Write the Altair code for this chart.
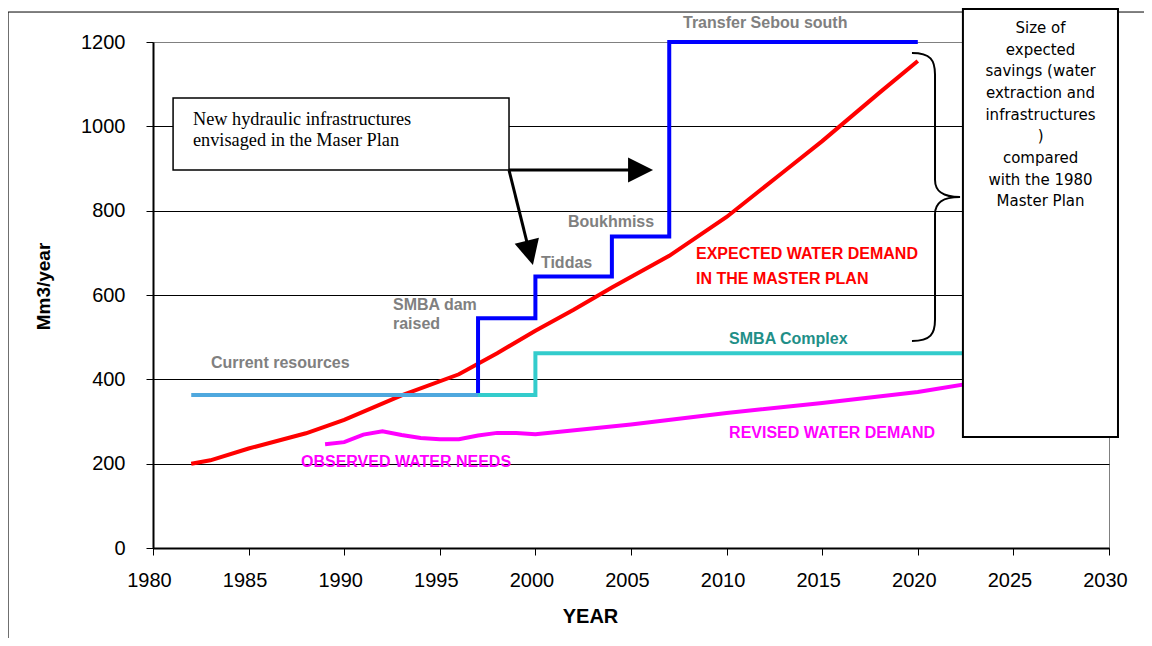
import altair as alt
import pandas as pd

# ---------------- data ----------------
x_ticks = [1980, 1985, 1990, 1995, 2000, 2005, 2010, 2015, 2020, 2025, 2030]
y_ticks = [0, 200, 400, 600, 800, 1000, 1200]

demand_years = [1982, 1983, 1985, 1988, 1990, 1993, 1996, 1998, 2000, 2002, 2004, 2007, 2010, 2013, 2015, 2018, 2020]
demand_values = [200, 208, 236, 272, 304, 362, 412, 462, 515, 565, 618, 693, 785, 893, 965, 1080, 1155]

infra_years = [1997, 1997, 2000, 2000, 2004, 2004, 2007, 2007, 2020]
infra_values = [363, 545, 545, 644, 644, 739, 739, 1200, 1200]

current_years = [1982, 1997]
current_values = [363, 363]

smba_years = [1997, 2000, 2000, 2030]
smba_values = [363, 363, 462, 462]

needs_years = [1989, 1990, 1991, 1992, 1993, 1994, 1995, 1996, 1997, 1998, 1999, 2000, 2005, 2010, 2015, 2020, 2025]
needs_values = [246, 251, 269, 277, 268, 261, 258, 258, 267, 273, 273, 270, 293, 320, 344, 370, 407]

label_texts = ["Transfer Sebou south", "Current resources", "SMBA dam", "raised", "Tiddas", "Boukhmiss",
               "EXPECTED WATER DEMAND", "IN THE MASTER PLAN", "SMBA Complex",
               "REVISED WATER DEMAND", "OBSERVED WATER NEEDS"]
label_years = [2007.72, 1983.03, 1992.55, 1992.55, 2000.29, 2001.70, 2008.40, 2008.40, 2010.13, 2010.13, 1987.74]
label_values = [1245, 438.7, 576.3, 531.2, 675.9, 773.1, 697.2, 639.1, 496.8, 273.9, 202.8]
label_colors = ["#808080"] * 6 + ["#FF0000", "#FF0000", "#1F8F88", "#FF00FF", "#FF00FF"]

note_lines = ["New hydraulic infrastructures", "envisaged in the Maser Plan"]
note_values = [1003.2, 953.4]

savings_lines = ["Size of", "expected", "savings (water", "extraction and", "infrastructures", ")",
                 "compared", "with the 1980", "Master Plan"]
savings_values = [1220.6, 1169.4, 1118.2, 1066.9, 1015.7, 964.5, 913.3, 862.0, 810.8]

# ---------------- scales & axes ----------------
xs = alt.Scale(domain=[1980, 2030], nice=False, zero=False)
ys = alt.Scale(domain=[0, 1200], nice=False, zero=False)

FONT = "Liberation Sans"
x_axis = alt.Axis(
    title="YEAR", values=x_ticks, format="d", grid=False,
    labelFont=FONT, labelFontSize=20, labelColor="black", labelPadding=15, labelOffset=-4,
    labelFlush=False, labelOverlap=False,
    tickSize=7, tickColor="black", tickWidth=1, domainColor="black", domainWidth=2,
    titleFont=FONT, titleFontSize=20, titleFontWeight="bold", titleColor="black",
    titleX=437, titleY=58.5, titleBaseline="top", titleAlign="center",
)
y_axis = alt.Axis(
    title="Mm3/year", values=y_ticks, format="d", grid=True,
    gridColor={"condition": {"test": "datum.value === 1200", "value": "#808080"}, "value": "#000000"},
    gridWidth=1,
    labelFont=FONT, labelFontSize=20, labelColor="black", labelPadding=21,
    labelOverlap=False, labelFlush=False,
    tickSize=7, tickColor="black", tickWidth=1, domainColor="black", domainWidth=2,
    titleFont=FONT, titleFontSize=19, titleFontWeight="bold", titleColor="black",
    titleX=-104, titleY=244, titleAngle=270, titleAlign="center", titleBaseline="alphabetic",
)


def X(field="year"):
    return alt.X(f"{field}:Q", scale=xs, axis=x_axis)


def Y(field="value"):
    return alt.Y(f"{field}:Q", scale=ys, axis=y_axis)


def series(xv, yv):
    return pd.DataFrame({"year": xv, "value": yv, "i": list(range(len(xv)))})


def line(xv, yv, color):
    return alt.Chart(series(xv, yv)).mark_line(color=color, strokeWidth=4, strokeJoin="miter").encode(
        x=X(), y=Y(), order="i:Q")


# ---------------- frame (outer chart border) ----------------
frame = alt.Chart(pd.DataFrame({"year": [1972.42], "year2": [2034.5], "value": [1271.1], "value2": [-300]})).mark_rect(
    fillOpacity=0, stroke="black", strokeWidth=1).encode(x=X(), x2="year2:Q", y=Y(), y2="value2:Q")

red = line(demand_years, demand_values, "#FF0000")
blue = line(infra_years, infra_values, "#0000FF")
cur = line(current_years, current_values, "#4FA8DE")
cyan = line(smba_years, smba_values, "#33CCCC")
mag = line(needs_years, needs_values, "#FF00FF")

labels = alt.Chart(pd.DataFrame({"year": label_years, "value": label_values, "t": label_texts, "c": label_colors})).mark_text(
    align="left", baseline="middle", font=FONT, fontSize=16, fontWeight="bold").encode(
    x=X(), y=Y(), text="t:N", color=alt.Color("c:N", scale=None))

# note box with arrows
note_box = alt.Chart(pd.DataFrame({"year": [1981.05], "year2": [1998.62], "value": [1067.2], "value2": [896.4]})).mark_rect(
    fill="white", stroke="black", strokeWidth=1.5).encode(x=X(), x2="year2:Q", y=Y(), y2="value2:Q")
note_text = alt.Chart(pd.DataFrame({"year": [1982.09, 1982.09], "value": note_values, "t": note_lines})).mark_text(
    align="left", baseline="alphabetic", font="Liberation Serif", fontSize=18.3, color="black").encode(
    x=X(), y=Y(), text="t:N")
shafts = alt.Chart(pd.DataFrame({"year": [1998.62, 1998.62], "year2": [2005.0, 1999.59],
                                 "value": [896.4, 896.4], "value2": [896.4, 719.5]})).mark_rule(
    color="black", strokeWidth=3).encode(x=X(), x2="year2:Q", y=Y(), y2="value2:Q")
heads = alt.Chart(pd.DataFrame({"year": [2005.50, 1999.71], "value": [896.4, 699.8], "a": [0, 75.8]})).mark_point(
    shape="M1,0 L-1,-1 L-1,1 Z", size=625, filled=True, color="black", opacity=1).encode(
    x=X(), y=Y(), angle=alt.Angle("a:Q", scale=None))

# brace and savings box
brace = alt.Chart(pd.DataFrame({"year": [2020.90], "value": [832.4]})).mark_point(
    shape="M-0.16,-1 C-0.03,-1 0,-0.95 0,-0.85 L0,-0.12 C0,-0.04 0.05,0 0.174,0 C0.05,0 0,0.04 0,0.12 L0,0.85 C0,0.95 -0.03,1 -0.16,1",
    size=82944, filled=False, stroke="black", strokeWidth=2, opacity=1).encode(x=X(), y=Y())
sav_box = alt.Chart(pd.DataFrame({"year": [2022.36], "year2": [2030.47], "value": [1278.3], "value2": [263.2]})).mark_rect(
    fill="white", stroke="black", strokeWidth=2).encode(x=X(), x2="year2:Q", y=Y(), y2="value2:Q")
sav_text = alt.Chart(pd.DataFrame({"year": [2026.42] * len(savings_lines), "value": savings_values, "t": savings_lines})).mark_text(
    align="center", baseline="alphabetic", font="DejaVu Sans", fontSize=15, color="black").encode(
    x=X(), y=Y(), text="t:N")

chart = alt.layer(
    frame, red, blue, cur, cyan, mag, labels, note_box, note_text, shafts, heads, brace, sav_box, sav_text
).properties(
    width=956, height=506,
    autosize=alt.AutoSizeParams(type="none"),
    padding={"left": 145, "top": 34, "right": 35, "bottom": 90},
    background="white",
).configure_view(stroke="#808080", strokeWidth=1)

chart.save("out.html", embed_options={"renderer": "svg", "actions": False})
